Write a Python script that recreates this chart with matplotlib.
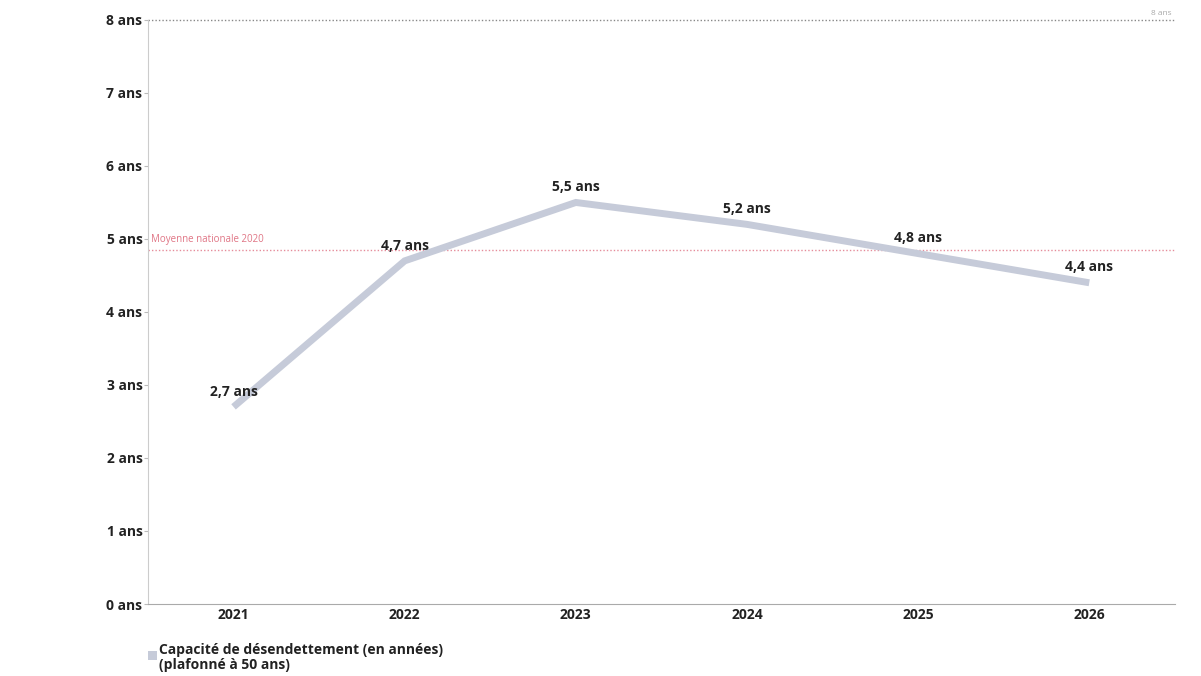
import matplotlib.pyplot as plt

# Data
years = ["2021", "2022", "2023", "2024", "2025", "2026"]
capacite = [2.7, 4.7, 5.5, 5.2, 4.8, 4.4]
labels = ["2,7 ans", "4,7 ans", "5,5 ans", "5,2 ans", "4,8 ans", "4,4 ans"]
moyenne_nationale = 4.85
seuil = 8
y_ticks = [0, 1, 2, 3, 4, 5, 6, 7, 8]

plt.rcParams['font.family'] = ['Open Sans', 'DejaVu Sans']

fig = plt.figure(figsize=(12.01, 6.76), dpi=100)
ax = fig.add_axes([0.1232, 0.1065, 0.855, 0.864])

x = list(range(len(years)))
line_color = "#c6cbd9"
ax.plot(x, capacite, color=line_color, linewidth=5, solid_capstyle="butt",
        solid_joinstyle="miter", zorder=3)

for xi, v, lab in zip(x, capacite, labels):
    ax.annotate(lab, (xi, v), xytext=(0, 6), textcoords="offset points",
                ha="center", va="bottom", fontsize=10, fontweight="bold",
                color="#222222", zorder=4)

# reference lines
ax.axhline(moyenne_nationale, color="#e58c9a", linestyle=(0, (1, 1.5)),
           linewidth=1, zorder=2)
ax.text(-0.48, moyenne_nationale + 0.07, "Moyenne nationale 2020",
        fontsize=7, color="#e07585", va="bottom", ha="left")
ax.axhline(seuil, color="#888888", linestyle=(0, (1, 1.5)), linewidth=1,
           zorder=2, clip_on=False)
ax.text(5.48, seuil + 0.04, "8 ans", fontsize=6, color="#aaaaaa",
        va="bottom", ha="right")

ax.set_xlim(-0.5, 5.5)
ax.set_ylim(0, 8)
ax.set_yticks(y_ticks)
ax.set_yticklabels([f"{t} ans" for t in y_ticks], fontsize=10,
                   fontweight="bold", color="#222222")
ax.set_xticks(x)
ax.set_xticklabels(years, fontsize=10, fontweight="bold", color="#222222")
ax.tick_params(axis="x", length=0, pad=3)
ax.tick_params(axis="y", length=3, width=0.8, color="#bbbbbb", pad=1)

for s in ["top", "right"]:
    ax.spines[s].set_visible(False)
ax.spines["left"].set_color("#cccccc")
ax.spines["bottom"].set_color("#aaaaaa")
ax.spines["left"].set_linewidth(0.8)
ax.spines["bottom"].set_linewidth(0.8)

# legend
fig.patches.append(plt.Rectangle((0.1235, 0.0235), 0.0075, 0.0135,
                                 transform=fig.transFigure,
                                 facecolor="#c6cbd9", edgecolor="none"))
fig.text(0.1325, 0.039, "Capacité de désendettement (en années)",
         fontsize=10, fontweight="bold", color="#222222", va="center")
fig.text(0.1325, 0.017, "(plafonné à 50 ans)",
         fontsize=10, fontweight="bold", color="#222222", va="center")

fig.savefig("out.png", dpi=100)
